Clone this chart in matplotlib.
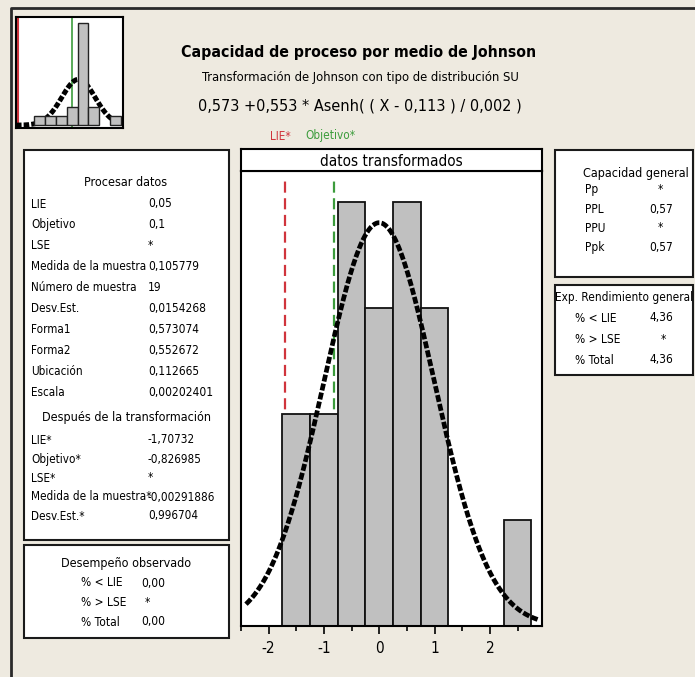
import numpy as np
import matplotlib
matplotlib.use("Agg")
import matplotlib.pyplot as plt
from matplotlib.patches import Rectangle
from matplotlib.lines import Line2D

plt.rcParams['font.family'] = ['DejaVu Sans']
plt.rcParams['font.stretch'] = 'condensed'
plt.rcParams['lines.scale_dashes'] = False

# transformed data histogram (bin width 0.5)
bin_left = [-1.75, -1.25, -0.75, -0.25, 0.25, 0.75, 2.25]
bin_counts = [2, 2, 4, 3, 4, 3, 1]
bin_width = 0.5
n_obs = 19
mean_t = -0.00291886
sd_t = 0.996704
lie_t = -1.70732
target_t = -0.826985

# original data thumbnail (bin width 0.01)
thumb_left = [0.065, 0.075, 0.085, 0.095, 0.105, 0.115, 0.135]
thumb_counts = [1, 1, 1, 2, 11, 2, 1]
thumb_width = 0.01
mean_o = 0.105779
sd_o = 0.0154268
lie_o = 0.05
target_o = 0.1

proc_labels = ["LIE", "Objetivo", "LSE", "Medida de la muestra", "Número de muestra",
               "Desv.Est.", "Forma1", "Forma2", "Ubicación", "Escala"]
proc_values = ["0,05", "0,1", "*", "0,105779", "19", "0,0154268", "0,573074",
               "0,552672", "0,112665", "0,00202401"]
after_labels = ["LIE*", "Objetivo*", "LSE*", "Medida de la muestra*", "Desv.Est.*"]
after_values = ["-1,70732", "-0,826985", "*", "-0,00291886", "0,996704"]
obs_labels = ["% < LIE", "% > LSE", "% Total"]
obs_values = ["0,00", "*", "0,00"]
cap_labels = ["Pp", "PPL", "PPU", "Ppk"]
cap_values = ["*", "0,57", "*", "0,57"]
exp_labels = ["% < LIE", "% > LSE", "% Total"]
exp_values = ["4,36", "*", "4,36"]

W, H = 695, 677
BG = '#EEEAE0'
RED = '#D0343C'
GREEN = '#3C9C3C'

fig = plt.figure(figsize=(W / 100, H / 100), dpi=100, facecolor=BG)


def fx(x):
    return x / W


def fy(y):
    return 1 - y / H


def box(x0, y0, x1, y1, lw=1.5):
    fig.patches.append(Rectangle((fx(x0), fy(y1)), (x1 - x0) / W, (y1 - y0) / H,
                                 transform=fig.transFigure, fc='white', ec='#1a1a1a', lw=lw))


def txt(x, y, s, size=8.6, ha='left', **kw):
    fig.text(fx(x), fy(y), s, ha=ha, va='center', fontsize=size, **kw)


def add_axes(x0, y0, x1, y1):
    return fig.add_axes([fx(x0), fy(y1), (x1 - x0) / W, (y1 - y0) / H])


# outer frame
fig.add_artist(Line2D([fx(11), fx(11), fx(695)], [fy(677), fy(8), fy(8)],
                      transform=fig.transFigure, color='#2a2a2a', lw=2))

# thumbnail of original data
ta = add_axes(16, 17, 123, 128)
ta.set_facecolor('white')
xs = np.linspace(0.048, 0.147, 200)
ys = n_obs * thumb_width * np.exp(-0.5 * ((xs - mean_o) / sd_o) ** 2) / (sd_o * np.sqrt(2 * np.pi))
ta.plot(xs, ys, color='black', lw=3.6, dashes=(4, 1.5), zorder=1)
ta.bar(thumb_left, thumb_counts, width=thumb_width, align='edge', color='#C0C0C0',
       edgecolor='#222', lw=1, zorder=2)
ta.axvline(lie_o, color=RED, lw=1.5, zorder=0)
ta.axvline(target_o, color=GREEN, lw=1.2, zorder=0)
ta.set_xlim(0.048, 0.147)
ta.set_ylim(-0.3, 11.6)
ta.set_xticks([])
ta.set_yticks([])
for s in ta.spines.values():
    s.set_linewidth(1.5)

# titles
txt(359, 52, "Capacidad de proceso por medio de Johnson", size=11.3, ha='center', weight='bold')
txt(360, 77, "Transformación de Johnson con tipo de distribución SU", size=9.3, ha='center')
txt(360, 106, "0,573 +0,553 * Asenh( ( X - 0,113 ) / 0,002 )", size=11.6, ha='center')

# main histogram
ax = add_axes(241, 171, 542, 626)
ax.set_facecolor('white')
ax.bar(bin_left, bin_counts, width=bin_width, align='edge', color='#C0C0C0',
       edgecolor='#111', lw=1.3, zorder=2)
ax.axvline(lie_t, ymax=0.99, color=RED, lw=1.6, dashes=(8, 4), zorder=1)
ax.axvline(target_t, ymax=0.99, color=GREEN, lw=1.6, dashes=(8, 4), zorder=1)
xc = np.linspace(-2.41, 2.86, 300)
yc = n_obs * bin_width * np.exp(-0.5 * ((xc - mean_t) / sd_t) ** 2) / (sd_t * np.sqrt(2 * np.pi))
ax.plot(xc, yc, color='black', lw=3.4, dashes=(5, 1.6), zorder=3, clip_on=False)
ax.set_xlim(-2.41, 2.94)
ax.set_ylim(0, 4.29)
ax.set_yticks([])
ax.set_xticks([-2, -1, 0, 1, 2])
ax.set_xticklabels(["-2", "-1", "0", "1", "2"])
ax.set_xticks(np.arange(-2.5, 3.0, 0.5), minor=True)
ax.tick_params(axis='x', which='major', length=6, width=1.2, labelsize=11, pad=5)
ax.tick_params(axis='x', which='minor', length=3.5, width=1.2)
for s in ax.spines.values():
    s.set_linewidth(1.5)

# header strip above histogram
hd = add_axes(241, 149, 542, 171)
hd.set_facecolor('white')
hd.set_xticks([])
hd.set_yticks([])
for s in hd.spines.values():
    s.set_linewidth(1.5)
hd.text(0.5, 0.45, "datos transformados", ha='center', va='center', fontsize=11,
        transform=hd.transAxes)

# limit labels
txt(lie_t * 56.3 + 376.7, 136, "LIE*", size=8.5, ha='center', color=RED)
txt(target_t * 56.3 + 376.7, 136, "Objetivo*", size=8.5, ha='center', color=GREEN)

# left data box
box(24, 150, 229, 540)
txt(126, 183, "Procesar datos", size=9, ha='center')
for i, (lab, val) in enumerate(zip(proc_labels, proc_values)):
    y = 204 + 20.9 * i
    txt(31, y, lab, size=8.4)
    txt(148, y, val)
txt(126, 417, "Después de la transformación", size=9, ha='center')
for i, (lab, val) in enumerate(zip(after_labels, after_values)):
    y = 440 + 19 * i
    txt(31, y, lab, size=8.4)
    txt(148, y, val, size=8.4)

box(24, 545, 229, 638)
txt(126, 563, "Desempeño observado", size=9, ha='center')
for i, (lab, val) in enumerate(zip(obs_labels, obs_values)):
    y = 583 + 19.5 * i
    txt(81, y, lab)
    txt(141 if val != "*" else 145, y, val)

# right boxes
box(555, 150, 693, 277)
txt(636, 173, "Capacidad general", size=9, ha='center')
for i, (lab, val) in enumerate(zip(cap_labels, cap_values)):
    y = 190 + 19 * i
    txt(585, y, lab)
    txt(649 if val != "*" else 658, y, val)

box(555, 285, 693, 375)
txt(624, 297, "Exp. Rendimiento general", size=8.5, ha='center')
for i, (lab, val) in enumerate(zip(exp_labels, exp_values)):
    y = 318 + 21 * i
    txt(575, y, lab)
    txt(650 if val != "*" else 661, y, val)

fig.savefig("out.png", dpi=100, facecolor=BG)
